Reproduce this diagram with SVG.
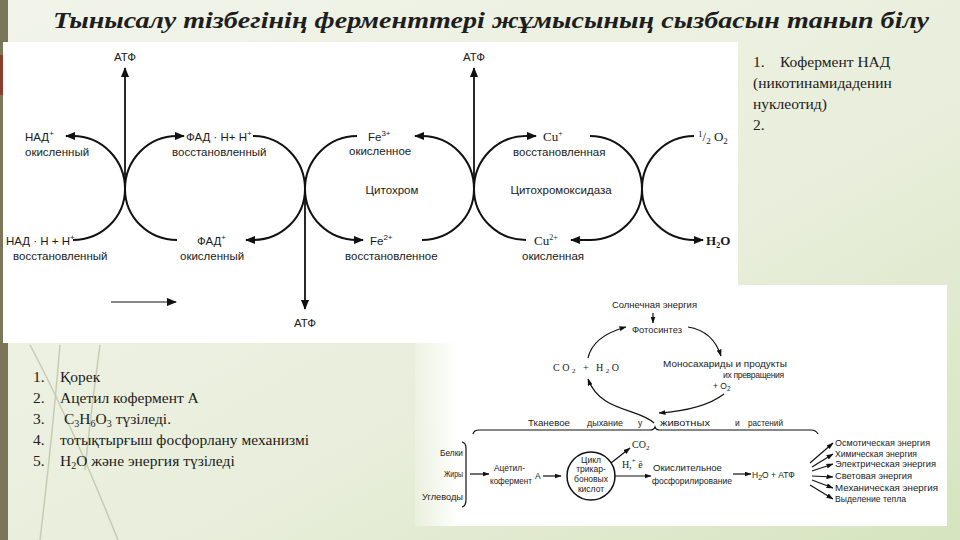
<svg xmlns="http://www.w3.org/2000/svg" width="960" height="540" viewBox="0 0 960 540">
<defs>
<linearGradient id="bg" x1="0" y1="0" x2="1" y2="1">
<stop offset="0" stop-color="#f2f4ea"/>
<stop offset="0.6" stop-color="#e8eedb"/>
<stop offset="1" stop-color="#d6e4be"/>
</linearGradient>
<linearGradient id="pw" x1="0" y1="0" x2="1" y2="0">
<stop offset="0" stop-color="#ffffff" stop-opacity="0.2"/>
<stop offset="0.08" stop-color="#ffffff" stop-opacity="1"/>
<stop offset="1" stop-color="#ffffff" stop-opacity="1"/>
</linearGradient>
<marker id="ah" markerWidth="10" markerHeight="8" refX="9" refY="4" orient="auto" markerUnits="userSpaceOnUse"><path d="M0,0 L10,4 L0,8 z" fill="#111"/></marker>
<marker id="as" markerWidth="7" markerHeight="5" refX="6.5" refY="2.5" orient="auto" markerUnits="userSpaceOnUse"><path d="M0,0 L7,2.5 L0,5 z" fill="#111"/></marker>
<style>
.ttl{font-family:"Liberation Serif","Times New Roman",serif;font-size:23px;font-weight:bold;font-style:italic;fill:#1e1e1e}
.t{font-family:"Liberation Sans",Arial,sans-serif;font-size:11.5px;fill:#1a1a1a}
.s{font-family:"Liberation Serif","Times New Roman",serif;fill:#1a1a1a}
.c{fill:none;stroke:#111;stroke-width:2}
.v{fill:none;stroke:#111;stroke-width:1.8}
.b{font-family:"Liberation Sans",Arial,sans-serif;font-size:8.5px;fill:#1a1a1a}
.l{fill:none;stroke:#111;stroke-width:1.2}
.r{font-family:"Liberation Serif","Times New Roman",serif;font-size:15.5px;fill:#1c1c1c}
.m{text-anchor:middle}
</style>
</defs>

<!-- slide background -->
<rect x="0" y="0" width="960" height="540" fill="url(#bg)"/>
<rect x="0" y="0" width="8" height="540" fill="#7b7559"/>
<rect x="0" y="55" width="4" height="40" fill="#8a3f2c"/>
<g fill="none" stroke="#b9bda3" stroke-width="1.5" opacity="0.7">
<path d="M30 345 Q70 420 118 540"/>
<path d="M60 345 Q52 440 40 540"/>
<path d="M100 345 Q90 420 85 470"/>
</g>

<!-- title -->
<text class="ttl" x="491" y="28" text-anchor="middle" textLength="876" lengthAdjust="spacingAndGlyphs">Тынысалу тізбегінің ферменттері жұмысының  сызбасын танып білу</text>

<!-- top diagram panel -->
<rect x="3" y="42" width="735" height="301" fill="#ffffff"/>

<g id="connectors">
<!-- junction 125 -->
<path class="c" d="M125 189 A52 53 0 0 0 73 136 H66" marker-end="url(#ah)"/>
<path class="c" d="M125 189 A52 53 0 0 1 177 136 H184" marker-end="url(#ah)"/>
<path class="c" d="M125 189 A52 51 0 0 1 73 240"/>
<path class="c" d="M125 189 A52 51 0 0 0 177 240"/>
<path class="v" d="M125 189 V68" marker-end="url(#ah)"/>
<!-- junction 305 -->
<path class="c" d="M305 189 A52 53 0 0 0 253 136"/>
<path class="c" d="M305 189 A52 53 0 0 1 357 136"/>
<path class="c" d="M305 189 A52 51 0 0 1 253 240 H246" marker-end="url(#ah)"/>
<path class="c" d="M305 189 A52 51 0 0 0 357 240 H363" marker-end="url(#ah)"/>
<path class="v" d="M305 189 V309" marker-end="url(#ah)"/>
<!-- junction 474 -->
<path class="c" d="M474 189 A52 53 0 0 0 422 136 H415" marker-end="url(#ah)"/>
<path class="c" d="M474 189 A52 53 0 0 1 526 136 H536" marker-end="url(#ah)"/>
<path class="c" d="M474 189 A52 51 0 0 1 422 240"/>
<path class="c" d="M474 189 A52 51 0 0 0 526 240"/>
<path class="v" d="M474 189 V68" marker-end="url(#ah)"/>
<!-- junction 642 -->
<path class="c" d="M642 189 A52 53 0 0 0 590 136"/>
<path class="c" d="M642 189 A52 53 0 0 1 694 136"/>
<path class="c" d="M642 189 A52 51 0 0 1 590 240 H571" marker-end="url(#ah)"/>
<path class="c" d="M642 189 A52 51 0 0 0 694 240 H703" marker-end="url(#ah)"/>
<!-- direction arrow -->
<path class="l" d="M111 302 H176" stroke-width="1.4" marker-end="url(#ah)"/>
</g>

<g id="atf1"><text class="t m" x="125" y="61">АТФ</text></g>
<g id="atf2"><text class="t m" x="474" y="61">АТФ</text></g>
<g id="atf3"><text class="t m" x="305" y="327">АТФ</text></g>
<g id="nad-ox"><text class="t" x="25" y="141">НАД<tspan font-size="8" dy="-5">+</tspan></text><text class="t" x="25" y="156">окисленный</text></g>
<g id="fadh"><text class="t" x="186" y="141">ФАД · Н+ Н<tspan font-size="8" dy="-5">+</tspan></text><text class="t" x="172" y="156">восстановленный</text></g>
<g id="fe3"><text class="t" x="368" y="141">Fe<tspan font-size="8" dy="-5">3+</tspan></text><text class="t" x="349" y="155">окисленное</text></g>
<g id="cu1"><text class="s" font-size="13" x="543" y="141">Cu<tspan font-size="8" dy="-5">+</tspan></text><text class="t" x="513" y="156">восстановленная</text></g>
<g id="o2"><text class="s" font-size="13" x="698" y="141"><tspan font-size="9" dy="-4">1</tspan><tspan dy="4">/</tspan><tspan font-size="9" dy="3">2</tspan><tspan dy="-3"> O</tspan><tspan font-size="9" dy="3">2</tspan></text></g>
<g id="cyt"><text class="t m" x="392" y="194">Цитохром</text></g>
<g id="cytox"><text class="t m" x="561" y="194">Цитохромоксидаза</text></g>
<g id="nadh"><text class="t" x="6" y="245">НАД · Н + Н<tspan font-size="8" dy="-5">+</tspan></text><text class="t" x="13" y="260">восстановленный</text></g>
<g id="fad-ox"><text class="t" x="197" y="245">ФАД<tspan font-size="8" dy="-5">+</tspan></text><text class="t" x="180" y="260">окисленный</text></g>
<g id="fe2"><text class="t" x="370" y="245">Fe<tspan font-size="8" dy="-5">2+</tspan></text><text class="t" x="345" y="260">восстановленное</text></g>
<g id="cu2"><text class="s" font-size="13" x="534" y="245">Cu<tspan font-size="8" dy="-5">2+</tspan></text><text class="t" x="522" y="260">окисленная</text></g>
<g id="h2o"><text class="s" font-size="13" font-weight="bold" x="706" y="245">H<tspan font-size="8" dy="3">2</tspan><tspan dy="-3">O</tspan></text></g>

<!-- right text -->
<g id="right-notes">
<text class="r" x="753" y="67">1.<tspan x="780">Кофермент НАД</tspan></text>
<text class="r" x="753" y="88">(никотинамидаденин</text>
<text class="r" x="753" y="109">нуклеотид)</text>
<text class="r" x="753" y="130">2.</text>
</g>

<!-- left list -->
<g id="left-list">
<text class="r" x="33" y="382">1.<tspan x="60">Қорек</tspan></text>
<text class="r" x="33" y="403">2.<tspan x="60">Ацетил кофермент А</tspan></text>
<text class="r" x="33" y="424">3.<tspan x="64">C</tspan><tspan font-size="10" dy="3">3</tspan><tspan dy="-3">H</tspan><tspan font-size="10" dy="3">6</tspan><tspan dy="-3">O</tspan><tspan font-size="10" dy="3">3</tspan><tspan dy="-3"> түзіледі.</tspan></text>
<text class="r" x="33" y="445">4.<tspan x="60">тотықтырғыш  фосфорлану механизмі</tspan></text>
<text class="r" x="33" y="466">5.<tspan x="60">H</tspan><tspan font-size="10" dy="3">2</tspan><tspan dy="-3">O және энергия түзіледі</tspan></text>
</g>

<!-- bottom-right diagram panel -->
<rect x="415" y="285" width="532" height="241" fill="url(#pw)"/>

<g id="connectors2">
<path class="l" d="M653 313 V323" marker-end="url(#as)"/>
<path class="l" d="M588 358 Q593 336 626 327" marker-end="url(#as)"/>
<path class="l" d="M688 327 Q713 331 721 356" marker-end="url(#as)"/>
<path class="l" d="M724 394 Q703 410 659 413" marker-end="url(#as)"/>
<path class="l" d="M654 423 C638 408 600 412 588 379" marker-end="url(#as)"/>
<path class="l" d="M473 434 Q474 430 479 430 H650 Q654 430 655 427 Q656 430 660 430 H811 Q816 430 818 434"/>
<path class="l" d="M462 442 Q466 443 466 448 V500 Q466 506 462 507"/>
<path class="l" d="M470 474 H489" marker-end="url(#as)"/>
<path class="l" d="M543 476 H561" marker-end="url(#as)"/>
<circle cx="591" cy="476" r="24" fill="none" stroke="#111" stroke-width="1.5"/>
<path class="l" d="M611 463 L630 448" marker-end="url(#as)"/>
<path class="l" d="M615 476 H651" stroke-width="2" marker-end="url(#as)"/>
<path class="l" d="M733 474 H751" stroke-width="1.8" marker-end="url(#as)"/>
<path class="l" d="M810 463 L833 443" marker-end="url(#as)"/>
<path class="l" d="M812 467 L833 454" marker-end="url(#as)"/>
<path class="l" d="M812 471 L833 464" marker-end="url(#as)"/>
<path class="l" d="M812 476 L833 477" marker-end="url(#as)"/>
<path class="l" d="M812 480 L833 488" marker-end="url(#as)"/>
<path class="l" d="M810 485 L833 499" marker-end="url(#as)"/>
</g>

<g id="sun"><text class="b" x="612" y="308" textLength="85" lengthAdjust="spacingAndGlyphs">Солнечная энергия</text></g>
<g id="photo"><text class="b" x="632" y="333" textLength="50" lengthAdjust="spacingAndGlyphs">Фотосинтез</text></g>
<g id="co2h2o"><text class="s" font-size="10" x="553" y="371" letter-spacing="2.5">CO<tspan font-size="7" dy="2">2</tspan><tspan dy="-2">  +  H</tspan><tspan font-size="7" dy="2">2</tspan><tspan dy="-2">O</tspan></text></g>
<g id="mono">
<text class="b" x="663" y="367" textLength="124" lengthAdjust="spacingAndGlyphs">Моносахариды и продукты</text>
<text class="b" x="723" y="378" letter-spacing="-0.3">их превращения</text>
<text class="b" x="713" y="389">+ O<tspan font-size="6.5" dy="2">2</tspan></text>
</g>
<g id="tissue">
<text class="b" x="528" y="426" textLength="42" lengthAdjust="spacingAndGlyphs">Тканевое</text>
<text class="b" x="587" y="426" textLength="36" lengthAdjust="spacingAndGlyphs">дыхание</text>
<text class="b" x="638" y="426">у</text>
<text class="b" x="660" y="426" textLength="50" lengthAdjust="spacingAndGlyphs">животных</text>
<text class="b" x="735" y="426">и</text>
<text class="b" x="748" y="426" textLength="35" lengthAdjust="spacingAndGlyphs">растений</text>
</g>
<g id="food">
<text class="b" x="440" y="456" textLength="23" lengthAdjust="spacingAndGlyphs">Белки</text>
<text class="b" x="444" y="477" textLength="19" lengthAdjust="spacingAndGlyphs">Жиры</text>
<text class="b" x="422" y="500" textLength="41" lengthAdjust="spacingAndGlyphs">Углеводы</text>
</g>
<g id="acetyl">
<text class="b" x="494" y="471" textLength="31" lengthAdjust="spacingAndGlyphs">Ацетил-</text>
<text class="b" x="490" y="484" textLength="42" lengthAdjust="spacingAndGlyphs">кофермент</text>
<text class="b" x="535" y="479">А</text>
</g>
<g id="tca">
<text class="b m" x="591" y="463" font-size="8">Цикл</text>
<text class="b m" x="591" y="472" font-size="8">трикар-</text>
<text class="b m" x="591" y="482" font-size="8">боновых</text>
<text class="b m" x="591" y="492" font-size="8">кислот</text>
</g>
<g id="co2b"><text class="s" font-size="10" x="632" y="448">CO<tspan font-size="7" dy="2">2</tspan></text></g>
<g id="he"><text class="s" font-size="10" x="622" y="468">H,<tspan font-size="7" dy="-5">+</tspan><tspan dy="5"> ē</tspan></text></g>
<g id="oxphos">
<text class="b" x="653" y="471" textLength="69" lengthAdjust="spacingAndGlyphs">Окислительное</text>
<text class="b" x="652" y="484" textLength="80" lengthAdjust="spacingAndGlyphs">фосфорилирование</text>
</g>
<g id="h2oatp"><text class="b" font-size="10" x="752" y="478">H<tspan font-size="7" dy="2">2</tspan><tspan dy="-2">O + АТФ</tspan></text></g>
<g id="energies">
<text class="b" x="835" y="446" textLength="95" lengthAdjust="spacingAndGlyphs">Осмотическая энергия</text>
<text class="b" x="835" y="457" textLength="82" lengthAdjust="spacingAndGlyphs">Химическая энергия</text>
<text class="b" x="835" y="467" textLength="101" lengthAdjust="spacingAndGlyphs">Электрическая энергия</text>
<text class="b" x="835" y="479" textLength="77" lengthAdjust="spacingAndGlyphs">Световая энергия</text>
<text class="b" x="835" y="491" textLength="103" lengthAdjust="spacingAndGlyphs">Механическая энергия</text>
<text class="b" x="835" y="502" textLength="71" lengthAdjust="spacingAndGlyphs">Выделение тепла</text>
</g>
</svg>
